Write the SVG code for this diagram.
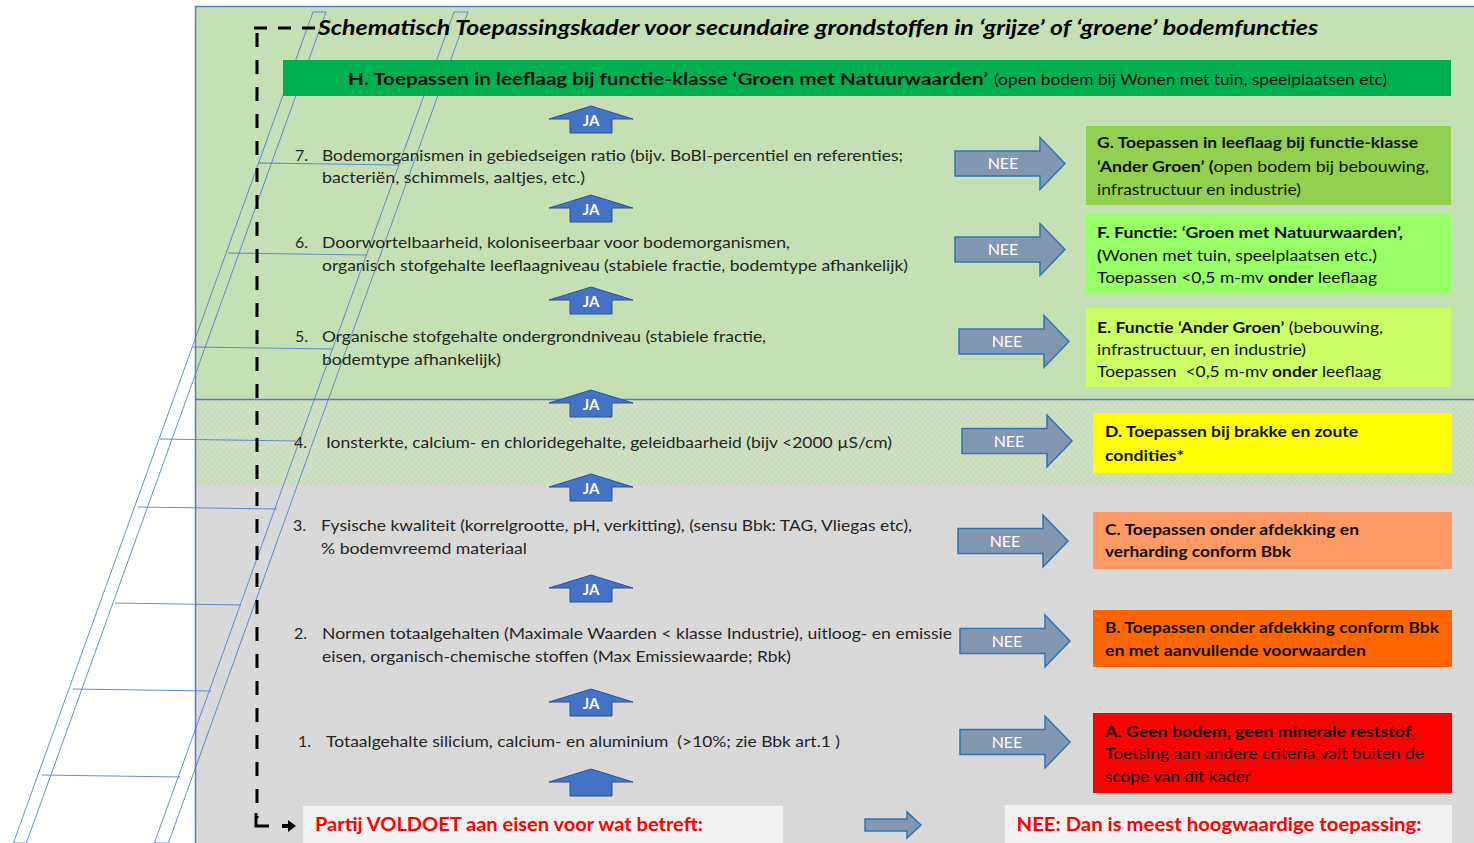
<svg xmlns="http://www.w3.org/2000/svg" width="1474" height="843" viewBox="0 0 1474 843">
<defs>
<style>
text{font-family:Lato,'Liberation Sans',sans-serif;}
.t{font-size:16px;fill:#262626;}
.bx{font-size:16px;fill:#111;}
.b{font-weight:bold;}
.ja{font-size:15px;font-weight:bold;fill:#fff;text-anchor:middle;}
.nee{font-size:16px;fill:#fff;text-anchor:middle;}
.red{font-size:18px;font-weight:bold;fill:#ff0000;}
.jaA{fill:#4472c4;stroke:#2f528f;stroke-width:1;}
.neeA{fill:#8497b0;stroke:#2e75b6;stroke-width:1.5;}
.rail{fill:none;stroke:#4a7bd0;stroke-width:1;stroke-opacity:0.85;}
.dash{fill:none;stroke:#000;stroke-width:3;}
</style>
<pattern id="chk" width="6" height="6" patternUnits="userSpaceOnUse">
<rect width="6" height="6" fill="#d6dad0"/>
<rect width="3" height="3" fill="#c5e0b4"/>
<rect x="3" y="3" width="3" height="3" fill="#c5e0b4"/>
</pattern>
<path id="ja" d="M0,0 L42,13 L21,13 L21,27 L-21,27 L-21,13 L-42,13 Z"/>
<path id="nee" d="M0,-12.5 H85 V-26 L110,0 L85,26 V12.5 H0 Z"/>
</defs>

<g id="background">
<rect x="195.5" y="6.5" width="1290" height="393" fill="#c5e0b4"/>
<rect x="195.5" y="399.5" width="1290" height="87" fill="url(#chk)"/>
<rect x="195.5" y="486" width="1290" height="360" fill="#d9d9d9"/>
<line x1="195.5" y1="399.5" x2="1474" y2="399.5" stroke="#5a7ab8" stroke-width="1.5"/>
<rect x="195.5" y="6.5" width="1290" height="850" fill="none" stroke="#5a7ec4" stroke-width="1.5"/>
</g>

<g id="ladder">
<polygon class="rail" points="313,12 326,12 26.4,843 13.4,843"/>
<polygon class="rail" points="454,12 468,12 168.4,843 154.4,843"/>
<line class="rail" x1="258" y1="163" x2="399" y2="165"/>
<line class="rail" x1="228" y1="253" x2="367" y2="255"/>
<line class="rail" x1="193" y1="347" x2="333" y2="349"/>
<line class="rail" x1="160" y1="439" x2="296" y2="441"/>
<line class="rail" x1="138" y1="507" x2="277" y2="509"/>
<line class="rail" x1="115" y1="603" x2="241" y2="605"/>
<line class="rail" x1="73" y1="689" x2="211" y2="691"/>
<line class="rail" x1="42" y1="775" x2="180" y2="777"/>
</g>

<g id="title">
<text x="318" y="35" font-size="21.5" font-weight="bold" font-style="italic" fill="#000" textLength="1000" lengthAdjust="spacingAndGlyphs">Schematisch Toepassingskader voor secundaire grondstoffen in ‘grijze’ of ‘groene’ bodemfuncties</text>
</g>

<g id="nodeH">
<rect x="283" y="60" width="1168" height="36" fill="#00b050"/>
<text x="348" y="85" font-size="17.5" font-weight="bold" fill="#111" textLength="640" lengthAdjust="spacingAndGlyphs">H. Toepassen in leeflaag bij functie-klasse ‘Groen met Natuurwaarden’</text>
<text x="994" y="85" font-size="15" fill="#111" textLength="393" lengthAdjust="spacingAndGlyphs">(open bodem bij Wonen met tuin, speelplaatsen etc)</text>
</g>

<g id="crit7">
<text class="t" x="295" y="161">7.</text>
<text class="t" x="322" y="161" textLength="581" lengthAdjust="spacingAndGlyphs">Bodemorganismen in gebiedseigen ratio (bijv. BoBI-percentiel en referenties;</text>
<text class="t" x="322" y="183" textLength="263" lengthAdjust="spacingAndGlyphs">bacteriën, schimmels, aaltjes, etc.)</text>
</g>
<g id="crit6">
<text class="t" x="295" y="248">6.</text>
<text class="t" x="322" y="248" textLength="468" lengthAdjust="spacingAndGlyphs">Doorwortelbaarheid, koloniseerbaar voor bodemorganismen,</text>
<text class="t" x="322" y="271" textLength="586" lengthAdjust="spacingAndGlyphs">organisch stofgehalte leeflaagniveau (stabiele fractie, bodemtype afhankelijk)</text>
</g>
<g id="crit5">
<text class="t" x="295" y="342">5.</text>
<text class="t" x="322" y="342" textLength="444" lengthAdjust="spacingAndGlyphs">Organische stofgehalte ondergrondniveau (stabiele fractie,</text>
<text class="t" x="322" y="365" textLength="179" lengthAdjust="spacingAndGlyphs">bodemtype afhankelijk)</text>
</g>
<g id="crit4">
<text class="t" x="294" y="448">4.</text>
<text class="t" x="326" y="448" textLength="566" lengthAdjust="spacingAndGlyphs">Ionsterkte, calcium- en chloridegehalte, geleidbaarheid (bijv &lt;2000 µS/cm)</text>
</g>
<g id="crit3">
<text class="t" x="293" y="531">3.</text>
<text class="t" x="321" y="531" textLength="591" lengthAdjust="spacingAndGlyphs">Fysische kwaliteit (korrelgrootte, pH, verkitting), (sensu Bbk: TAG, Vliegas etc),</text>
<text class="t" x="321" y="554" textLength="206" lengthAdjust="spacingAndGlyphs">% bodemvreemd materiaal</text>
</g>
<g id="crit2">
<text class="t" x="294" y="639">2.</text>
<text class="t" x="322" y="639" textLength="630" lengthAdjust="spacingAndGlyphs">Normen totaalgehalten (Maximale Waarden &lt; klasse Industrie), uitloog- en emissie</text>
<text class="t" x="322" y="662" textLength="469" lengthAdjust="spacingAndGlyphs">eisen, organisch-chemische stoffen (Max Emissiewaarde; Rbk)</text>
</g>
<g id="crit1">
<text class="t" x="298" y="747">1.</text>
<text class="t" x="326" y="747" xml:space="preserve" textLength="514" lengthAdjust="spacingAndGlyphs">Totaalgehalte silicium, calcium- en aluminium  (&gt;10%; zie Bbk art.1 )</text>
</g>

<g id="nodeG">
<rect x="1086" y="126" width="365" height="79" fill="#92d050"/>
<text class="bx b" x="1097" y="148" textLength="321" lengthAdjust="spacingAndGlyphs">G. Toepassen in leeflaag bij functie-klasse</text>
<text class="bx" x="1097" y="172" textLength="332" lengthAdjust="spacingAndGlyphs"><tspan class="b">‘Ander Groen’ (</tspan>open bodem bij bebouwing,</text>
<text class="bx" x="1097" y="195" textLength="204" lengthAdjust="spacingAndGlyphs">infrastructuur en industrie)</text>
</g>
<g id="nodeF">
<rect x="1086" y="214" width="365" height="79" fill="#99ff66"/>
<text class="bx b" x="1097" y="238" textLength="306" lengthAdjust="spacingAndGlyphs">F. Functie: ‘Groen met Natuurwaarden’,</text>
<text class="bx" x="1097" y="261" textLength="280" lengthAdjust="spacingAndGlyphs"><tspan class="b">(</tspan>Wonen met tuin, speelplaatsen etc.)</text>
<text class="bx" x="1097" y="283" textLength="280" lengthAdjust="spacingAndGlyphs">Toepassen &lt;0,5 m-mv <tspan class="b">onder</tspan> leeflaag</text>
</g>
<g id="nodeE">
<rect x="1086" y="308" width="365" height="79" fill="#ccff66"/>
<text class="bx" x="1097" y="333" textLength="286" lengthAdjust="spacingAndGlyphs"><tspan class="b">E. Functie ‘Ander Groen’</tspan> (bebouwing,</text>
<text class="bx" x="1097" y="355" textLength="209" lengthAdjust="spacingAndGlyphs">infrastructuur, en industrie)</text>
<text class="bx" x="1097" y="377" xml:space="preserve" textLength="284" lengthAdjust="spacingAndGlyphs">Toepassen  &lt;0,5 m-mv <tspan class="b">onder</tspan> leeflaag</text>
</g>
<g id="nodeD">
<rect x="1093" y="413" width="359" height="60" fill="#ffff00"/>
<text class="bx b" x="1105" y="437" textLength="253" lengthAdjust="spacingAndGlyphs">D. Toepassen bij brakke en zoute</text>
<text class="bx b" x="1105" y="461" textLength="79" lengthAdjust="spacingAndGlyphs">condities*</text>
</g>
<g id="nodeC">
<rect x="1093" y="512" width="359" height="57" fill="#ff9966"/>
<text class="bx b" x="1105" y="535" textLength="254" lengthAdjust="spacingAndGlyphs">C. Toepassen onder afdekking en</text>
<text class="bx b" x="1105" y="557" textLength="186" lengthAdjust="spacingAndGlyphs">verharding conform Bbk</text>
</g>
<g id="nodeB">
<rect x="1093" y="610" width="359" height="57" fill="#ff6600"/>
<text class="bx b" x="1105" y="633" textLength="334" lengthAdjust="spacingAndGlyphs">B. Toepassen onder afdekking conform Bbk</text>
<text class="bx b" x="1105" y="656" textLength="261" lengthAdjust="spacingAndGlyphs">en met aanvullende voorwaarden</text>
</g>
<g id="nodeA">
<rect x="1093" y="713" width="359" height="80" fill="#ff0000"/>
<text class="bx b" x="1105" y="737" textLength="310" lengthAdjust="spacingAndGlyphs">A. Geen bodem, geen minerale reststof.</text>
<text class="bx" x="1105" y="759" textLength="319" lengthAdjust="spacingAndGlyphs">Toetsing aan andere criteria valt buiten de</text>
<text class="bx" x="1105" y="782" textLength="146" lengthAdjust="spacingAndGlyphs">scope van dit kader</text>
</g>

<g id="nodeVoldoet">
<rect x="303" y="806" width="480" height="40" fill="#f2f2f2"/>
<text class="red" x="315" y="831" textLength="388" lengthAdjust="spacingAndGlyphs">Partij VOLDOET aan eisen voor wat betreft:</text>
</g>
<g id="nodeNee">
<rect x="1005" y="805" width="447" height="41" fill="#f2f2f2"/>
<text class="red" x="1016.5" y="831" textLength="405" lengthAdjust="spacingAndGlyphs">NEE: Dan is meest hoogwaardige toepassing:</text>
</g>

<g id="connectors">
<line class="dash" x1="254" y1="28" x2="318" y2="28" stroke-dasharray="13 11"/>
<line class="dash" x1="257" y1="33" x2="257" y2="818" stroke-dasharray="14 13"/>
<polyline class="dash" points="256,813 256,826 269,826"/>
<polygon points="282,824 288,824 288,820 296,826 288,832 288,828 282,828" fill="#000"/>

<use href="#ja" class="jaA" x="591" y="106"/>
<text class="ja" x="591" y="126">JA</text>
<use href="#ja" class="jaA" x="591" y="195"/>
<text class="ja" x="591" y="215">JA</text>
<use href="#ja" class="jaA" x="591" y="287"/>
<text class="ja" x="591" y="307">JA</text>
<use href="#ja" class="jaA" x="591" y="390"/>
<text class="ja" x="591" y="410">JA</text>
<use href="#ja" class="jaA" x="591" y="474"/>
<text class="ja" x="591" y="494">JA</text>
<use href="#ja" class="jaA" x="591" y="575"/>
<text class="ja" x="591" y="595">JA</text>
<use href="#ja" class="jaA" x="591" y="689"/>
<text class="ja" x="591" y="709">JA</text>
<use href="#ja" class="jaA" x="591" y="769"/>

<use href="#nee" class="neeA" x="955" y="163.5"/>
<text class="nee" x="1003" y="169">NEE</text>
<use href="#nee" class="neeA" x="955" y="249.5"/>
<text class="nee" x="1003" y="255">NEE</text>
<use href="#nee" class="neeA" x="959" y="341.5"/>
<text class="nee" x="1007" y="347">NEE</text>
<use href="#nee" class="neeA" x="962" y="441"/>
<text class="nee" x="1009" y="446.5">NEE</text>
<use href="#nee" class="neeA" x="958" y="541"/>
<text class="nee" x="1005" y="546.5">NEE</text>
<use href="#nee" class="neeA" x="960" y="641"/>
<text class="nee" x="1007" y="646.5">NEE</text>
<use href="#nee" class="neeA" x="960" y="742"/>
<text class="nee" x="1007" y="747.5">NEE</text>

<path d="M865,819 H907 V812 L921,825 L907,838 V831 H865 Z" class="neeA"/>
</g>
</svg>
